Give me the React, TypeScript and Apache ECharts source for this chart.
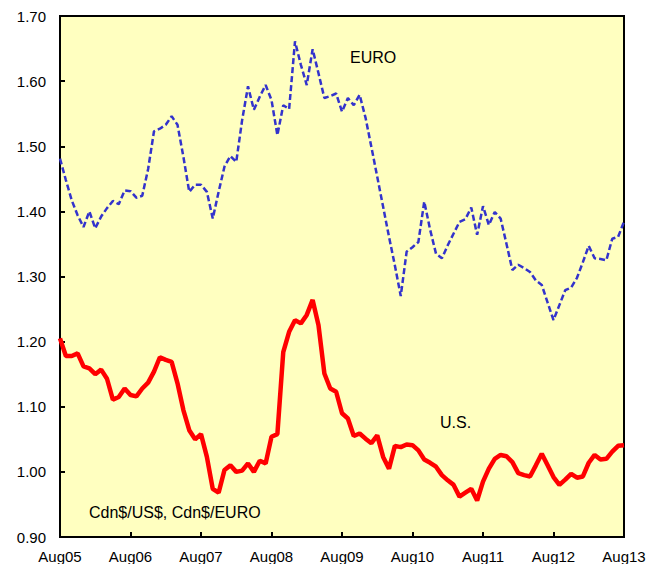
import React, { useEffect, useRef } from "react";
import * as echarts from "echarts";

const MONTHS = ["Jan", "Feb", "Mar", "Apr", "May", "Jun", "Jul", "Aug", "Sep", "Oct", "Nov", "Dec"];
const categories: string[] = [];
for (let k = 0; k <= 96; k++) {
  const m = (7 + k) % 12;
  const y = 5 + Math.floor((7 + k) / 12);
  categories.push(MONTHS[m] + String(y).padStart(2, "0"));
}

const euroValues = [
  1.481, 1.448, 1.417, 1.394, 1.376, 1.4, 1.374, 1.392, 1.405, 1.416, 1.411, 1.432,
  1.431, 1.421, 1.424, 1.465, 1.523, 1.527, 1.533, 1.546, 1.533, 1.484, 1.43, 1.441,
  1.441, 1.43, 1.389, 1.43, 1.469, 1.485, 1.476, 1.54, 1.592, 1.556, 1.576, 1.594,
  1.571, 1.517, 1.563, 1.557, 1.661, 1.625, 1.594, 1.649, 1.612, 1.574, 1.577, 1.581,
  1.553, 1.574, 1.563, 1.579, 1.544, 1.499, 1.453, 1.407, 1.361, 1.317, 1.27, 1.338,
  1.345, 1.353, 1.415, 1.372, 1.335, 1.328, 1.348, 1.366, 1.384, 1.388, 1.406, 1.364,
  1.408, 1.379, 1.399, 1.389, 1.35, 1.31, 1.318, 1.313, 1.307, 1.294, 1.287, 1.26,
  1.233, 1.256, 1.279, 1.283, 1.298, 1.322, 1.347, 1.328, 1.327, 1.325, 1.358, 1.361,
  1.384,
];

const usValues = [
  1.205, 1.178, 1.178, 1.182, 1.162, 1.159, 1.15, 1.157, 1.143, 1.111, 1.115, 1.128,
  1.118, 1.116, 1.128, 1.137, 1.154, 1.176, 1.172, 1.169, 1.136, 1.095, 1.064, 1.05,
  1.058, 1.023, 0.974, 0.968, 1.003, 1.01, 1.0, 1.002, 1.013, 1.0, 1.017, 1.013,
  1.054, 1.058, 1.184, 1.215, 1.233, 1.228, 1.241, 1.264, 1.225, 1.151, 1.128, 1.123,
  1.09, 1.082, 1.055, 1.059, 1.051, 1.044, 1.056, 1.023, 1.005, 1.04, 1.038, 1.042,
  1.041, 1.033, 1.019, 1.014, 1.008, 0.995, 0.987, 0.98, 0.962, 0.968, 0.974, 0.956,
  0.985, 1.005, 1.02, 1.026, 1.024, 1.015, 0.998, 0.995, 0.993, 1.01, 1.028, 1.01,
  0.992, 0.98, 0.988, 0.997, 0.991, 0.993, 1.014, 1.026, 1.019, 1.02, 1.031, 1.04,
  1.041,
];

const FONT = "Liberation Sans, Arial, sans-serif";

export default function App() {
  const ref = useRef<HTMLDivElement>(null);
  useEffect(() => {
    if (!ref.current) return;
    const chart = echarts.init(ref.current, null, { renderer: "svg" });
    chart.setOption({
      animation: false,
      backgroundColor: "#ffffff",
      grid: {
        left: 60,
        top: 16,
        right: 26,
        bottom: 27,
        show: true,
        backgroundColor: "#FFFFC0",
        borderColor: "#000000",
        borderWidth: 2,
      },
      xAxis: {
        type: "category",
        data: categories,
        boundaryGap: false,
        axisLine: { show: true, lineStyle: { color: "#000", width: 2 } },
        axisTick: { show: true, inside: true, length: 5, interval: 11, lineStyle: { color: "#000", width: 2 } },
        axisLabel: {
          interval: 11,
          margin: 12,
          color: "#000",
          fontSize: 15,
          fontFamily: FONT,
        },
        splitLine: { show: false },
      },
      yAxis: {
        type: "value",
        min: 0.9,
        max: 1.7,
        interval: 0.1,
        axisLine: { show: true, lineStyle: { color: "#000", width: 2 } },
        axisTick: { show: true, inside: true, length: 5, lineStyle: { color: "#000", width: 2 } },
        axisLabel: {
          margin: 14,
          color: "#000",
          fontSize: 15,
          fontFamily: FONT,
          formatter: (v: number) => v.toFixed(2),
        },
        splitLine: { show: false },
      },
      graphic: [
        { type: "text", left: 350, top: 49, style: { text: "EURO", fontSize: 16, fontFamily: FONT, fill: "#000" } },
        { type: "text", left: 440, top: 414, style: { text: "U.S.", fontSize: 16, fontFamily: FONT, fill: "#000" } },
        { type: "text", left: 89, top: 504, style: { text: "Cdn$/US$, Cdn$/EURO", fontSize: 16, fontFamily: FONT, fill: "#000" } },
      ],
      series: [
        {
          name: "EURO",
          type: "line",
          data: euroValues,
          symbol: "none",
          lineStyle: { color: "#3333CC", width: 2.5, type: [6, 3] },
        },
        {
          name: "U.S.",
          type: "line",
          data: usValues,
          symbol: "none",
          lineStyle: { color: "#FF0000", width: 4.5 },
        },
      ],
    });
    return () => chart.dispose();
  }, []);
  return <div ref={ref} style={{ position: "absolute", left: 0, top: 0, width: 650, height: 564 }} />;
}
